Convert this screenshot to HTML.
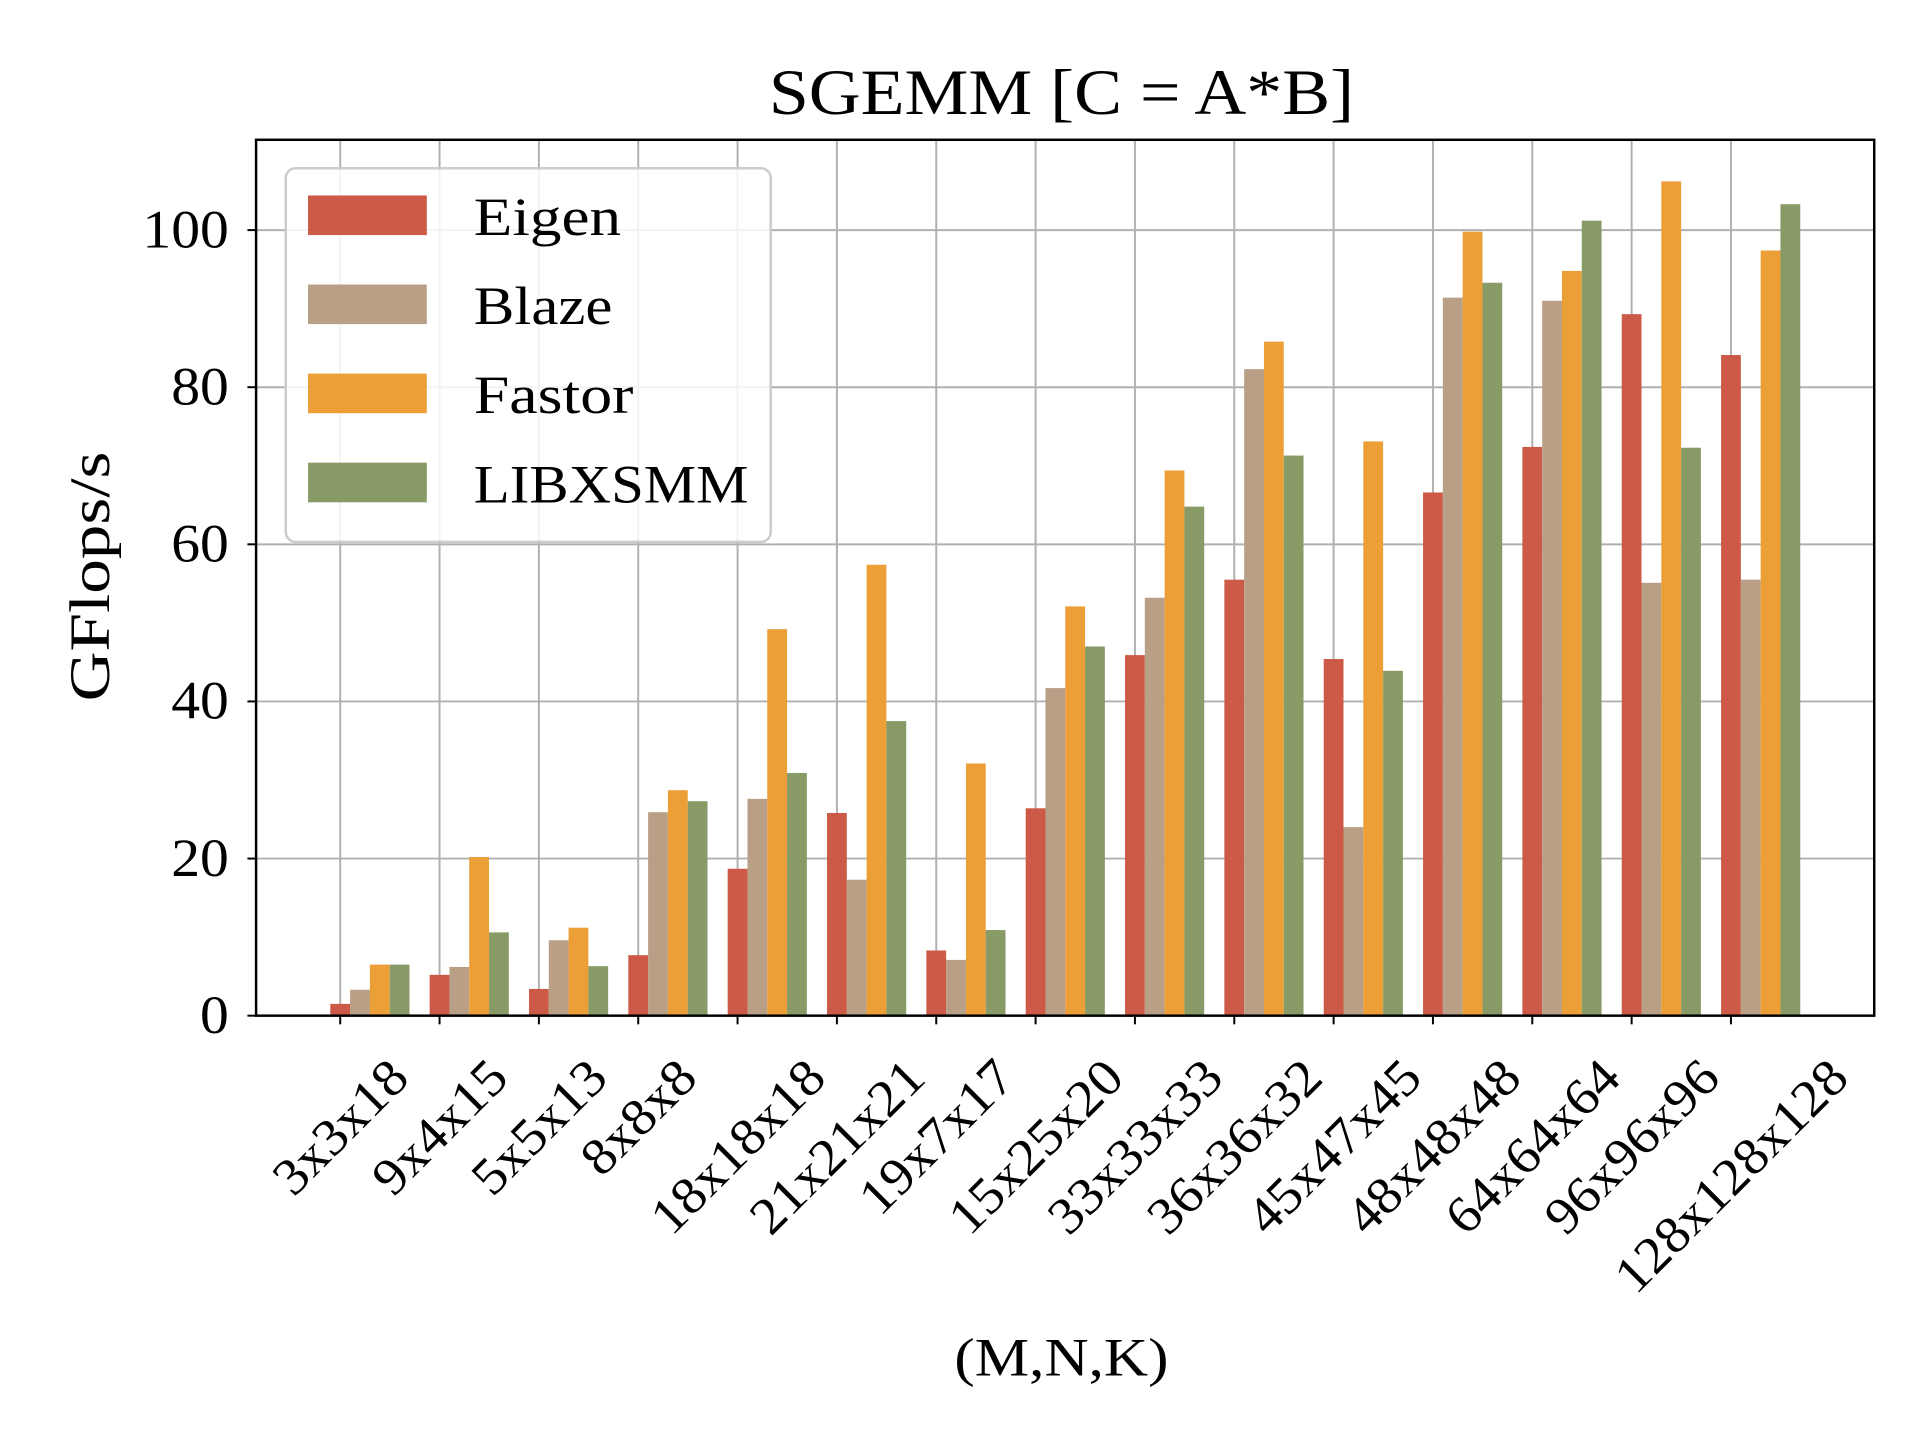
<!DOCTYPE html>
<html><head><style>html,body{margin:0;padding:0;background:#fff}svg{display:block}</style></head><body>
<svg width="1920" height="1440" viewBox="0 0 1552 1164" xmlns="http://www.w3.org/2000/svg" font-family="'Liberation Serif', serif">
<rect width="1552" height="1164" fill="#fff"/>
<g id="grid" stroke="#b0b0b0" stroke-width="1.6"></g>
<g id="bars"></g>
<rect x="207" y="113" width="1308" height="708" fill="none" stroke="#000" stroke-width="2"/>
<g id="ticks"></g>
<text x="858" y="92" font-size="52" text-anchor="middle" textLength="473" lengthAdjust="spacingAndGlyphs">SGEMM [C = A*B]</text>
<text x="858" y="1112" font-size="44" text-anchor="middle" textLength="173" lengthAdjust="spacingAndGlyphs">(M,N,K)</text>
<text transform="translate(88,466) rotate(-90)" font-size="46" text-anchor="middle" textLength="202" lengthAdjust="spacingAndGlyphs">GFlops/s</text>
<g>
<rect x="231" y="136" width="392" height="302" rx="8" fill="#fff" fill-opacity="0.85" stroke="#ccc" stroke-width="2"/>
<rect x="249" y="158" width="96" height="32" fill="#cc5a47"/>
<rect x="249" y="230" width="96" height="32" fill="#b89f86"/>
<rect x="249" y="302" width="96" height="32" fill="#ec9e37"/>
<rect x="249" y="374" width="96" height="32" fill="#889b66"/>
<text x="383" y="190" font-size="44" textLength="119" lengthAdjust="spacingAndGlyphs">Eigen</text>
<text x="383" y="262" font-size="44" textLength="112" lengthAdjust="spacingAndGlyphs">Blaze</text>
<text x="383" y="334" font-size="44" textLength="129" lengthAdjust="spacingAndGlyphs">Fastor</text>
<text x="383" y="406" font-size="44" textLength="222" lengthAdjust="spacingAndGlyphs">LIBXSMM</text>
</g>
<script>
const labels=["3x3x18","9x4x15","5x5x13","8x8x8","18x18x18","21x21x21","19x7x17","15x25x20","33x33x33","36x36x32","45x47x45","48x48x48","64x64x64","96x96x96","128x128x128"];
const data=[[1.5,3.3,6.5,6.5],[5.2,6.2,20.2,10.6],[3.4,9.6,11.2,6.3],[7.7,25.9,28.7,27.3],[18.7,27.6,49.2,30.9],[25.8,17.3,57.4,37.5],[8.3,7.1,32.1,10.9],[26.4,41.7,52.1,47.0],[45.9,53.2,69.4,64.8],[55.5,82.3,85.8,71.3],[45.4,24.0,73.1,43.9],[66.6,91.4,99.8,93.3],[72.4,91.0,94.8,101.2],[89.3,55.1,106.2,72.3],[84.1,55.5,97.4,103.3]];
const cols=["#cc5a47","#b89f86","#ec9e37","#889b66"];
const ns="http://www.w3.org/2000/svg";
const g=document.getElementById("grid"),b=document.getElementById("bars"),t=document.getElementById("ticks");
function el(p,n,a,txt){const e=document.createElementNS(ns,n);for(const k in a)e.setAttribute(k,a[k]);if(txt)e.textContent=txt;p.appendChild(e);return e;}
const Y=v=>821-v*6.35;
for(let v=0;v<=100;v+=20){const y=Y(v);el(g,"line",{x1:207,x2:1515,y1:y,y2:y});el(t,"line",{x1:200,x2:207,y1:y,y2:y,stroke:"#000","stroke-width":1.6});const s=String(v);el(t,"text",{x:185,y:y+14,"font-size":44,"text-anchor":"end",textLength:s.length*23.3,lengthAdjust:"spacingAndGlyphs"},s);}
labels.forEach((l,i)=>{const x=275+i*80.3;el(g,"line",{x1:x,x2:x,y1:113,y2:821});el(t,"line",{x1:x,x2:x,y1:821,y2:828,stroke:"#000","stroke-width":1.6});
data[i].forEach((v,j)=>{el(b,"rect",{x:x-8+j*16,y:Y(v),width:16,height:v*6.35,fill:cols[j]});});
const L=l.length*22.4;const cy=850+(L+38)*0.707/2;
el(t,"text",{x:0,y:14,"font-size":42,"text-anchor":"middle",textLength:L,lengthAdjust:"spacingAndGlyphs",transform:`translate(${x},${cy}) rotate(-45)`},l);});
</script>
</svg>
</body></html>
